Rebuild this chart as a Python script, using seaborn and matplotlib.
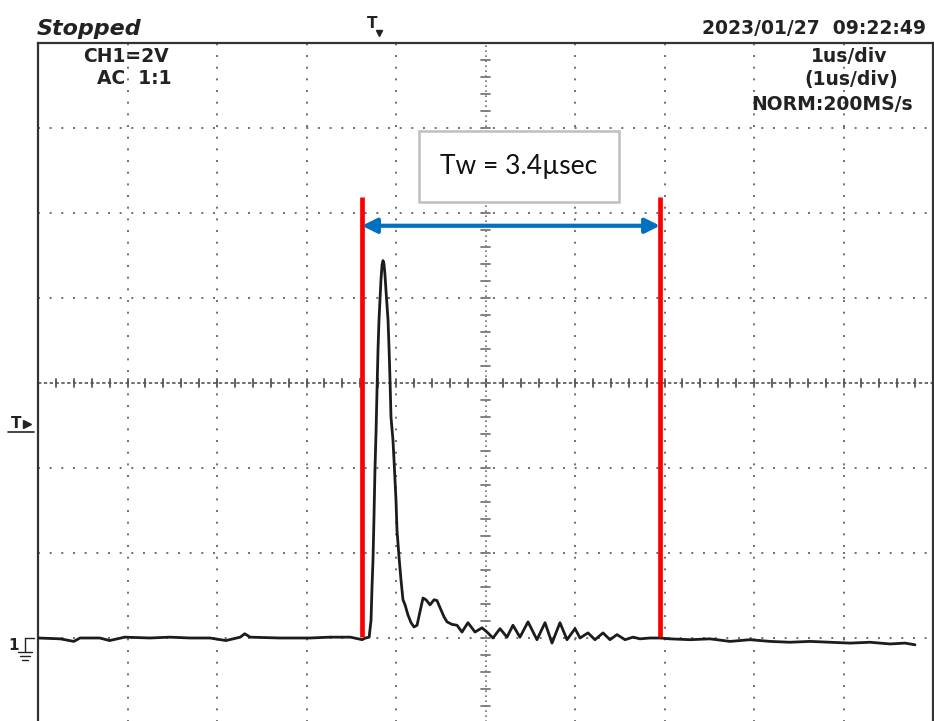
import numpy as np
import pandas as pd
import seaborn as sns
import matplotlib.pyplot as plt
from matplotlib.patches import Rectangle

sns.set_style("white")
plt.rcParams['font.family'] = ['DejaVu Sans']

# time in us (1 us/div, 0 = screen centre), amplitude in divisions (2 V/div)
time_us = [
    -5.00, -4.75, -4.60, -4.53, -4.31, -4.20, -4.03, -3.75, -3.53, -3.30, -3.08,
    -2.90, -2.74, -2.69, -2.63, -2.30, -1.96, -1.74, -1.51, -1.42, -1.38, -1.34, -1.30,
    -1.279, -1.268, -1.257, -1.246, -1.235, -1.223, -1.212, -1.201, -1.190, -1.179,
    -1.168, -1.156, -1.145, -1.134, -1.123, -1.112, -1.089, -1.078, -1.067, -1.056,
    -1.034, -1.022, -1.000, -0.989, -0.966, -0.944, -0.922, -0.899, -0.866, -0.832,
    -0.799, -0.765, -0.732, -0.698, -0.665, -0.620, -0.575, -0.542, -0.497, -0.464,
    -0.430, -0.374, -0.318, -0.263, -0.196, -0.117, -0.039, 0.017, 0.084, 0.162,
    0.240, 0.307, 0.385, 0.475, 0.575, 0.665, 0.743, 0.832, 0.911, 1.000, 1.056,
    1.145, 1.223, 1.313, 1.391, 1.469, 1.559, 1.648, 1.726, 1.838, 1.950, 2.061,
    2.285, 2.508, 2.732, 2.955, 3.179, 3.402, 3.626, 3.849, 4.073, 4.296, 4.520,
    4.687, 4.799,
]
level_div = [
    -3.00, -3.01, -3.04, -3.00, -3.00, -3.03, -2.99, -3.00, -2.99, -3.00, -3.00,
    -3.03, -2.99, -2.95, -2.99, -3.00, -3.00, -2.99, -2.99, -3.01, -3.02, -3.00, -2.99,
    -2.79, -2.40, -2.08, -1.58, -1.02, -0.58, -0.08, 0.39, 0.74, 0.98,
    1.21, 1.39, 1.44, 1.40, 1.27, 1.09, 0.74, 0.42, 0.04, -0.40,
    -0.67, -0.91, -1.38, -1.73, -2.05, -2.32, -2.55, -2.61, -2.73, -2.82,
    -2.87, -2.85, -2.69, -2.53, -2.55, -2.61, -2.55, -2.56, -2.67, -2.75,
    -2.81, -2.84, -2.85, -2.93, -2.82, -2.93, -2.88, -2.93, -3.00, -2.89,
    -2.99, -2.85, -2.99, -2.81, -3.02, -2.82, -3.06, -2.82, -3.02, -2.89, -3.00,
    -2.94, -3.02, -2.94, -3.02, -2.96, -3.02, -2.99, -3.01, -3.00, -3.00, -3.01,
    -3.02, -3.01, -3.04, -3.02, -3.04, -3.05, -3.04, -3.05, -3.06, -3.05, -3.07,
    -3.06, -3.08,
]

df = pd.DataFrame({"t": time_us, "v": level_div})

# pulse width cursors
cursor_t = [-1.38, 1.95]
cursor_span = [-2.99, 2.19]
arrow_v = 1.85
label = "Tw = 3.4\u00b5sec"

fig = plt.figure(figsize=(9.34, 7.21), dpi=100)
W, H = 934, 721
ax = fig.add_axes([38 / W, (H - 723) / H, 895 / W, 680 / H])
ax.set_xlim(-5, 5)
ax.set_ylim(-4, 4)

# dotted graticule
for gx in range(-4, 5):
    if gx != 0:
        ax.axvline(gx, color="#6e6e6e", lw=1.4, ls=(0, (1.0, 5.0)), zorder=1)
for gy in range(-3, 4):
    if gy != 0:
        ax.axhline(gy, color="#6e6e6e", lw=1.4, ls=(0, (1.0, 5.0)), zorder=1)
ax.axvline(0, color="#6e6e6e", lw=1.2, ls=(0, (1.0, 2.0)), zorder=1)
ax.axhline(0, color="#555555", lw=1.2, ls=(0, (2.0, 1.5)), zorder=1)
for k in np.arange(-4.8, 5.0, 0.2):
    ax.plot([k, k], [-0.05, 0.05], color="#555555", lw=1.3, zorder=1)
for k in np.arange(-3.8, 4.0, 0.2):
    ax.plot([-0.055, 0.055], [k, k], color="#777777", lw=1.3, zorder=1)

ax.set_xticks([])
ax.set_yticks([])
for s in ax.spines.values():
    s.set_color("#333333")
    s.set_linewidth(1.6)

sns.lineplot(data=df, x="t", y="v", ax=ax, sort=False, estimator=None,
             color="#1c1c1c", lw=2.0, zorder=3)
ax.set_xlabel("")
ax.set_ylabel("")

for ct in cursor_t:
    ax.plot([ct, ct], cursor_span, color="#ff0000", lw=3.4, zorder=4,
            solid_capstyle="butt")
ax.annotate("", xy=(cursor_t[0], arrow_v), xytext=(cursor_t[1], arrow_v),
            arrowprops=dict(arrowstyle="<|-|>", color="#0070c0", lw=3.0,
                            mutation_scale=22, shrinkA=0, shrinkB=0), zorder=4)

ax.add_patch(Rectangle((-0.743, 2.13), 2.235, 0.835, facecolor="white",
                       edgecolor="#bfbfbf", lw=1.8, zorder=5))
ax.text(0.375, 2.55, label, ha="center", va="center", fontsize=19,
        family=["Lato", "DejaVu Sans"], color="#111111", zorder=6)

# screen annotations (pixel positions of the reference)
def px(x, y):
    return x / W, 1 - y / H

fig.text(*px(37, 29), "Stopped", fontsize=16, fontweight="bold",
         fontstyle="italic", va="center", ha="left", color="#222222")
fig.text(*px(83, 57), "CH1=2V", fontsize=13.5, fontweight="bold",
         va="center", ha="left", color="#222222")
fig.text(*px(97, 78), "AC  1:1", fontsize=13.5, fontweight="bold",
         va="center", ha="left", color="#222222")
fig.text(*px(926, 29), "2023/01/27  09:22:49", fontsize=13.5,
         fontweight="bold", va="center", ha="right", color="#222222")
fig.text(*px(887, 57), "1us/div", fontsize=13.5, fontweight="bold",
         va="center", ha="right", color="#222222")
fig.text(*px(898, 80), "(1us/div)", fontsize=13.5, fontweight="bold",
         va="center", ha="right", color="#222222")
fig.text(*px(913, 105), "NORM:200MS/s", fontsize=13.5, fontweight="bold",
         va="center", ha="right", color="#222222")

# trigger markers
fig.text(*px(372, 24), "T", fontsize=11, fontweight="bold", va="center",
         ha="center", color="#222222")
fig.add_artist(plt.Line2D([379 / W], [1 - 33 / H], marker="v", markersize=4,
                          color="#222222", lw=0))
fig.text(*px(16, 424), "T", fontsize=11, fontweight="bold", va="center",
         ha="center", color="#222222")
fig.add_artist(plt.Line2D([27 / W], [1 - 424 / H], marker=">", markersize=6,
                          color="#222222", lw=0))
fig.add_artist(plt.Line2D([8 / W, 34 / W], [1 - 432 / H, 1 - 432 / H],
                          color="#222222", lw=1.2))
fig.text(*px(14, 645), "1", fontsize=11, fontweight="bold", va="center",
         ha="center", color="#222222")
for x0, x1, y0 in [(18, 32, 652), (20, 30, 656), (22, 28, 660)]:
    fig.add_artist(plt.Line2D([x0 / W, x1 / W], [1 - y0 / H, 1 - y0 / H],
                              color="#222222", lw=1.0))
fig.add_artist(plt.Line2D([25 / W, 25 / W], [1 - 638 / H, 1 - 652 / H],
                          color="#222222", lw=1.0))
fig.add_artist(plt.Line2D([25 / W, 34 / W], [1 - 638 / H, 1 - 638 / H],
                          color="#222222", lw=1.0))

fig.savefig("out.png", dpi=100)
